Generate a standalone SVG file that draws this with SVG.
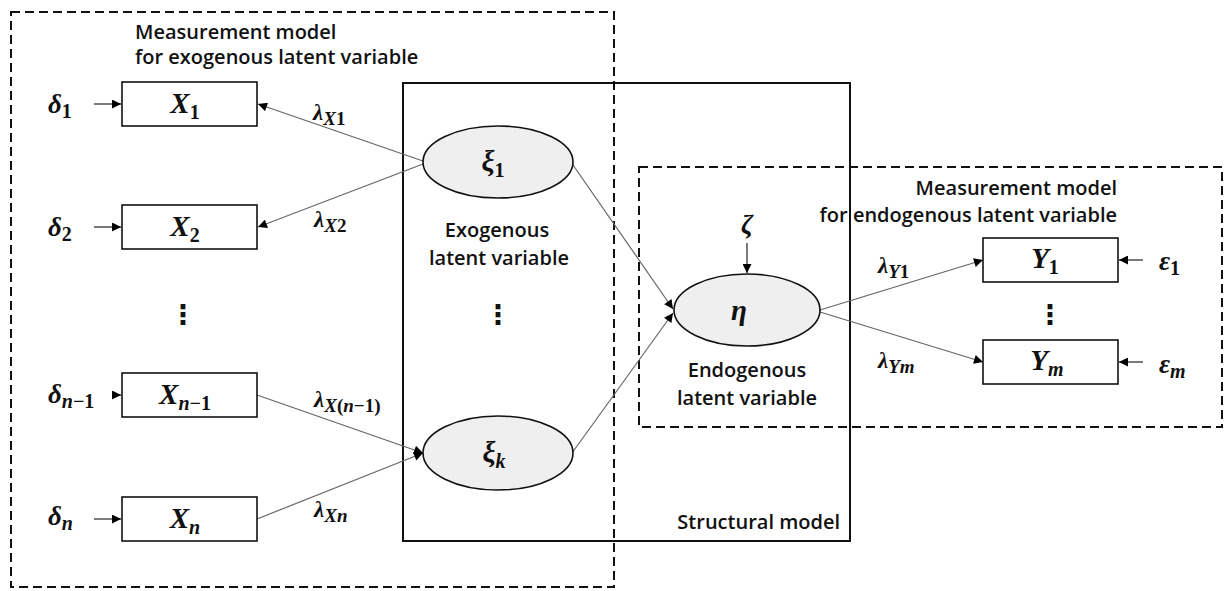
<svg xmlns="http://www.w3.org/2000/svg" width="1227" height="591" viewBox="0 0 1227 591">
  <defs>
    <marker id="arrow" viewBox="0 0 10 10" refX="10" refY="5" markerWidth="10" markerHeight="9" markerUnits="userSpaceOnUse" orient="auto">
      <path d="M0,0 L10,5 L0,10 z" fill="#000"/>
    </marker>
    <style>
      .frame-dash { fill: none; stroke: #111; stroke-width: 2; stroke-dasharray: 9 5; }
      .frame-solid { fill: none; stroke: #111; stroke-width: 2; }
      .box { fill: #fff; stroke: #111; stroke-width: 1.6; }
      .latent { fill: #efefef; stroke: #111; stroke-width: 1.6; }
      .link { fill: none; stroke: #666; stroke-width: 1.2; marker-end: url(#arrow); }
      .err { fill: none; stroke: #222; stroke-width: 1.2; marker-end: url(#arrow); }
      .caption { font-family: "Open Sans", "Liberation Sans", sans-serif; font-weight: 600; font-size: 20px; fill: #111; }
      .math { font-family: "Liberation Serif", "DejaVu Serif", serif; font-style: italic; font-weight: bold; fill: #111; }
      .big { font-size: 29px; }
      .mid { font-size: 27px; }
      .lam { font-size: 23px; }
      .sub { font-size: 20px; }
      .lsub { font-size: 19px; }
      .up { font-style: normal; }
      .dots { font-family: "DejaVu Sans", sans-serif; font-size: 27px; font-weight: bold; fill: #111; }
    </style>
  </defs>

  <!-- model frames -->
  <g id="frames">
    <rect class="frame-dash" x="11" y="12" width="603" height="575"/>
    <rect class="frame-solid" x="403" y="83" width="447" height="458"/>
    <rect class="frame-dash" x="639" y="167" width="583" height="260"/>
  </g>

  <!-- connectors -->
  <g id="connectors">
    <line class="link" x1="423" y1="161" x2="258" y2="104"/>
    <line class="link" x1="423" y1="164" x2="258" y2="227"/>
    <line class="link" x1="257" y1="395" x2="423" y2="453"/>
    <line class="link" x1="257" y1="519" x2="423" y2="453"/>
    <line class="link" x1="573" y1="165" x2="673" y2="309"/>
    <line class="link" x1="572" y1="453" x2="673" y2="313"/>
    <line class="link" x1="820" y1="310" x2="983" y2="260"/>
    <line class="link" x1="820" y1="312" x2="983" y2="362"/>
    <line class="err" x1="94" y1="104" x2="121" y2="104"/>
    <line class="err" x1="94" y1="227" x2="121" y2="227"/>
    <line class="err" x1="112" y1="395" x2="121" y2="395"/>
    <line class="err" x1="94" y1="519" x2="121" y2="519"/>
    <line class="err" x1="747" y1="243" x2="747" y2="273"/>
    <line class="err" x1="1143" y1="260" x2="1119" y2="260"/>
    <line class="err" x1="1143" y1="362" x2="1119" y2="362"/>
  </g>

  <!-- frame captions -->
  <g id="captions">
    <text class="caption" x="135" y="39">Measurement model</text>
    <text class="caption" x="135" y="64">for exogenous latent variable</text>
    <text class="caption" x="1117" y="195" text-anchor="end">Measurement model</text>
    <text class="caption" x="1117" y="222" text-anchor="end">for endogenous latent variable</text>
    <text class="caption" x="840" y="529" text-anchor="end">Structural model</text>
    <text class="caption" x="497" y="237" text-anchor="middle">Exogenous</text>
    <text class="caption" x="499" y="265" text-anchor="middle">latent variable</text>
    <text class="caption" x="747" y="377" text-anchor="middle">Endogenous</text>
    <text class="caption" x="747" y="405" text-anchor="middle">latent variable</text>
  </g>

  <!-- observed exogenous indicators -->
  <g id="x1">
    <rect class="box" x="122" y="82" width="135" height="44"/>
    <text class="math big" x="185" y="113" text-anchor="middle">X<tspan class="sub up" dy="6">1</tspan></text>
  </g>
  <g id="x2">
    <rect class="box" x="122" y="205" width="135" height="44"/>
    <text class="math big" x="185" y="236" text-anchor="middle">X<tspan class="sub up" dy="6">2</tspan></text>
  </g>
  <g id="xn1">
    <rect class="box" x="122" y="373" width="135" height="44"/>
    <text class="math big" x="185" y="404" text-anchor="middle">X<tspan class="sub" dy="6">n</tspan><tspan class="sub up">−1</tspan></text>
  </g>
  <g id="xn">
    <rect class="box" x="122" y="497" width="135" height="44"/>
    <text class="math big" x="185" y="528" text-anchor="middle">X<tspan class="sub" dy="6">n</tspan></text>
  </g>

  <!-- measurement errors -->
  <g id="delta1"><text class="math mid" x="48" y="113">δ<tspan class="sub up" dy="5">1</tspan></text></g>
  <g id="delta2"><text class="math mid" x="48" y="236">δ<tspan class="sub up" dy="5">2</tspan></text></g>
  <g id="deltan1"><text class="math mid" x="48" y="403">δ<tspan class="sub" dy="5">n</tspan><tspan class="sub up">−1</tspan></text></g>
  <g id="deltan"><text class="math mid" x="48" y="525">δ<tspan class="sub" dy="5">n</tspan></text></g>

  <!-- loadings -->
  <g id="loadings">
    <text class="math lam" x="313" y="120">λ<tspan class="lsub" dy="5">X</tspan><tspan class="lsub up">1</tspan></text>
    <text class="math lam" x="314" y="227">λ<tspan class="lsub" dy="5">X</tspan><tspan class="lsub up">2</tspan></text>
    <text class="math lam" x="314" y="407">λ<tspan class="lsub" dy="5">X</tspan><tspan class="lsub up">(</tspan><tspan class="lsub">n</tspan><tspan class="lsub up">−1)</tspan></text>
    <text class="math lam" x="314" y="517">λ<tspan class="lsub" dy="5">Xn</tspan></text>
    <text class="math lam" x="878" y="273">λ<tspan class="lsub" dy="5">Y</tspan><tspan class="lsub up">1</tspan></text>
    <text class="math lam" x="878" y="368">λ<tspan class="lsub" dy="5">Ym</tspan></text>
  </g>

  <!-- latent variables -->
  <g id="xi1">
    <ellipse class="latent" cx="498" cy="162" rx="75" ry="36"/>
    <text class="math big" x="493" y="171" text-anchor="middle">ξ<tspan class="sub up" dy="6">1</tspan></text>
  </g>
  <g id="xik">
    <ellipse class="latent" cx="498" cy="453" rx="75" ry="37"/>
    <text class="math big" x="494" y="462" text-anchor="middle">ξ<tspan class="sub" dy="6">k</tspan></text>
  </g>
  <g id="eta">
    <ellipse class="latent" cx="747" cy="310" rx="73" ry="36"/>
    <text class="math big" x="739" y="320" text-anchor="middle">η</text>
  </g>
  <g id="zeta">
    <text class="math mid" x="747" y="233" text-anchor="middle" font-weight="normal">ζ</text>
  </g>

  <!-- observed endogenous indicators -->
  <g id="y1">
    <rect class="box" x="983" y="238" width="135" height="44"/>
    <text class="math big" x="1045" y="268" text-anchor="middle">Y<tspan class="sub up" dy="6">1</tspan></text>
  </g>
  <g id="ym">
    <rect class="box" x="983" y="340" width="135" height="44"/>
    <text class="math big" x="1047" y="370" text-anchor="middle">Y<tspan class="sub" dy="6">m</tspan></text>
  </g>
  <g id="eps1"><text class="math mid" x="1159" y="270">ε<tspan class="sub up" dy="5">1</tspan></text></g>
  <g id="epsm"><text class="math mid" x="1159" y="373">ε<tspan class="sub" dy="5">m</tspan></text></g>

  <!-- ellipsis marks -->
  <g id="ellipses">
    <text class="dots" x="183" y="324" text-anchor="middle">⋮</text>
    <text class="dots" x="498" y="324" text-anchor="middle">⋮</text>
    <text class="dots" x="1050" y="324" text-anchor="middle">⋮</text>
  </g>
</svg>
